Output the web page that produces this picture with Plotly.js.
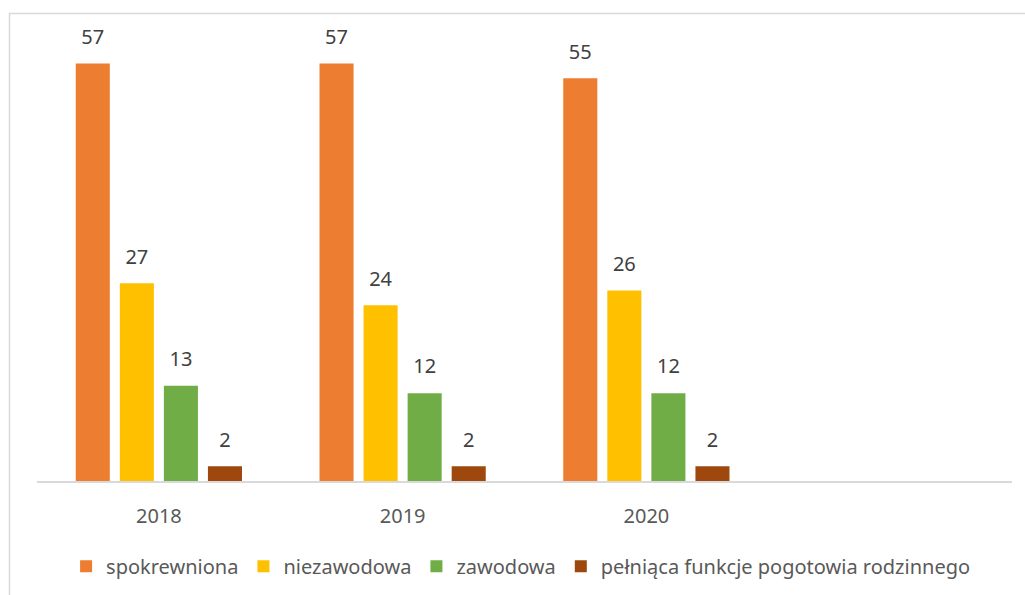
<!DOCTYPE html>
<html>
<head>
<meta charset="utf-8">
<script src="https://cdn.plot.ly/plotly-3.0.1.min.js"></script>
<style>
  html, body { margin: 0; padding: 0; background: #ffffff; }
  #chart { width: 1025px; height: 595px; }
</style>
</head>
<body>
<div id="chart"></div>
<script>
// ---- data ----
const years = ["2018", "2019", "2020"];
const seriesNames = ["spokrewniona", "niezawodowa", "zawodowa", "pełniąca funkcje pogotowia rodzinnego"];
const spokrewniona = [57, 57, 55];
const niezawodowa = [27, 24, 26];
const zawodowa = [13, 12, 12];
const pogotowie = [2, 2, 2];
const seriesValues = [spokrewniona, niezawodowa, zawodowa, pogotowie];
const seriesColors = ["#ED7D31", "#FFC000", "#70AD47", "#9E480E"];

const FONT = "Noto Sans, Open Sans, sans-serif";
const traces = [];
seriesValues.forEach((vals, i) => {
  traces.push({
    type: "bar",
    name: seriesNames[i],
    x: years,
    y: vals,
    offsetgroup: String(i),
    marker: { color: seriesColors[i], line: { width: 0 } },
    hoverinfo: "skip"
  });
});
seriesValues.forEach((vals, i) => {
  traces.push({
    type: "scatter",
    mode: "markers+text",
    x: years,
    y: vals,
    offsetgroup: String(i),
    text: vals.map(String),
    textposition: "top center",
    textfont: { family: FONT, size: 20, color: "#404040" },
    marker: { size: 22, color: "rgba(0,0,0,0)" },
    showlegend: false,
    cliponaxis: false,
    hoverinfo: "skip"
  });
});

const layout = {
  width: 1025,
  height: 595,
  margin: { l: 37, r: 13, t: 27, b: 114, autoexpand: false },
  paper_bgcolor: "#ffffff",
  plot_bgcolor: "#ffffff",
  barmode: "group",
  scattermode: "group",
  bargap: 0.277,
  scattergap: 0.277,
  bargroupgap: 0.227,
  font: { family: FONT, color: "#595959" },
  showlegend: true,
  legend: {
    orientation: "h",
    x: 0.496, xanchor: "center",
    y: -0.188, yanchor: "middle",
    font: { family: FONT, size: 20, color: "#595959" },
    traceorder: "normal"
  },
  xaxis: {
    type: "category",
    range: [-0.5, 3.5],
    showgrid: false,
    zeroline: false,
    showline: true,
    linecolor: "#D9D9D9",
    linewidth: 1.5,
    ticks: "",
    ticklabelstandoff: 16,
    tickfont: { family: FONT, size: 20, color: "#595959" }
  },
  yaxis: {
    range: [0, 62],
    visible: false,
    showgrid: false,
    zeroline: false
  },
  shapes: [{
    type: "path",
    xref: "paper", yref: "paper",
    path: "M -0.0282 -0.5 L -0.0282 1.0297 L 1.1 1.0297",
    line: { color: "#D9D9D9", width: 1.5 },
    layer: "below"
  }]
};

Plotly.newPlot("chart", traces, layout, { staticPlot: true });
</script>
</body>
</html>
